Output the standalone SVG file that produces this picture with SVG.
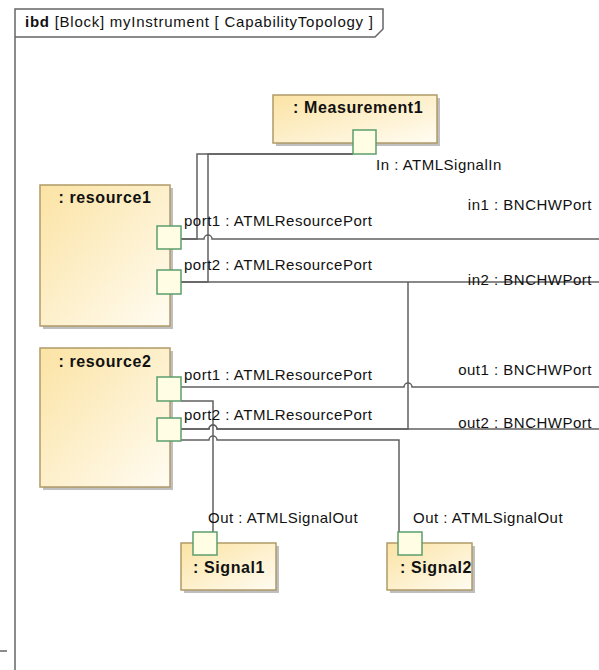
<svg xmlns="http://www.w3.org/2000/svg" width="599" height="670" viewBox="0 0 599 670">
<defs>
<linearGradient id="blk" x1="0" y1="0" x2="1" y2="1">
<stop offset="0" stop-color="#fbe3a4"/>
<stop offset="1" stop-color="#fffcf2"/>
</linearGradient>
<style>
.frame{fill:none;stroke:#666;stroke-width:1.5}
.shadow{fill:#bfbfbf}
.block{fill:url(#blk);stroke:#b09a68;stroke-width:1.5}
.port{fill:#fffde4;stroke:#5c9e6c;stroke-width:1.5}
.conn{fill:none;stroke:#606060;stroke-width:1.5}
.t{font-family:"Liberation Sans",Arial,sans-serif;font-size:15px;letter-spacing:0.5px;fill:#111}
.b{font-family:"Liberation Sans",Arial,sans-serif;font-size:16px;font-weight:bold;letter-spacing:0.6px;fill:#111}
</style>
</defs>
<rect width="599" height="670" fill="#fff"/>
<g id="frame">
<path class="frame" d="M15,670 V9 H383 V29 L375,37 H15"/>
<line class="frame" x1="0" y1="651" x2="7" y2="651"/>
<text class="t" x="25" y="27" style="letter-spacing:0.75px"><tspan font-weight="bold">ibd</tspan> [Block] myInstrument [ CapabilityTopology ]</text>
</g>
<g id="connectors">
<path class="conn" d="M353,154 H197 V239 H181"/>
<path class="conn" d="M353,154 H208 V282 H181"/>
<path class="conn" d="M181,239 H204 A4,4 0 0 1 212,239 H599"/>
<path class="conn" d="M181,282 H599"/>
<path class="conn" d="M181,429 H209 A4,4 0 0 1 217,429 H408 V282"/>
<path class="conn" d="M181,429 H209 A4,4 0 0 1 217,429 H599"/>
<path class="conn" d="M181,387 H404 A4,4 0 0 1 412,387 H599"/>
<path class="conn" d="M181,401 H213 V532"/>
<path class="conn" d="M181,440 H209 A4,4 0 0 1 217,440 H399 V533"/>
</g>
<g id="measurement1">
<rect class="shadow" x="276" y="98" width="164" height="48"/>
<rect class="block" x="273" y="95" width="164" height="48"/>
<text class="b" x="293" y="113">: Measurement1</text>
<rect class="port" x="353" y="130" width="23" height="24"/>
<text class="t" x="376" y="170">In : ATMLSignalIn</text>
</g>
<g id="resource1">
<rect class="shadow" x="43" y="188" width="130" height="141"/>
<rect class="block" x="40" y="185" width="130" height="141"/>
<text class="b" x="105" y="203" text-anchor="middle">: resource1</text>
<rect class="port" x="157" y="226" width="24" height="23"/>
<rect class="port" x="157" y="270" width="24" height="24"/>
<text class="t" x="184" y="226">port1 : ATMLResourcePort</text>
<text class="t" x="184" y="270">port2 : ATMLResourcePort</text>
</g>
<g id="resource2">
<rect class="shadow" x="43" y="351" width="130" height="139"/>
<rect class="block" x="40" y="348" width="130" height="139"/>
<text class="b" x="105" y="367" text-anchor="middle">: resource2</text>
<rect class="port" x="157" y="377" width="24" height="24"/>
<rect class="port" x="157" y="418" width="24" height="23"/>
<text class="t" x="184" y="380">port1 : ATMLResourcePort</text>
<text class="t" x="184" y="420">port2 : ATMLResourcePort</text>
</g>
<g id="signal1">
<rect class="shadow" x="184" y="546" width="95" height="47"/>
<rect class="block" x="181" y="543" width="95" height="47"/>
<text class="b" x="193" y="573">: Signal1</text>
<rect class="port" x="193" y="532" width="24" height="23"/>
<text class="t" x="208" y="523">Out : ATMLSignalOut</text>
</g>
<g id="signal2">
<rect class="shadow" x="390" y="546" width="85" height="47"/>
<rect class="block" x="387" y="543" width="85" height="47"/>
<text class="b" x="400" y="573">: Signal2</text>
<rect class="port" x="398" y="532" width="24" height="23"/>
<text class="t" x="413" y="523">Out : ATMLSignalOut</text>
</g>
<g id="boundary-ports">
<text class="t" x="592" y="210" text-anchor="end">in1 : BNCHWPort</text>
<text class="t" x="592" y="285" text-anchor="end">in2 : BNCHWPort</text>
<text class="t" x="592" y="375" text-anchor="end">out1 : BNCHWPort</text>
<text class="t" x="592" y="428" text-anchor="end">out2 : BNCHWPort</text>
</g>
</svg>
